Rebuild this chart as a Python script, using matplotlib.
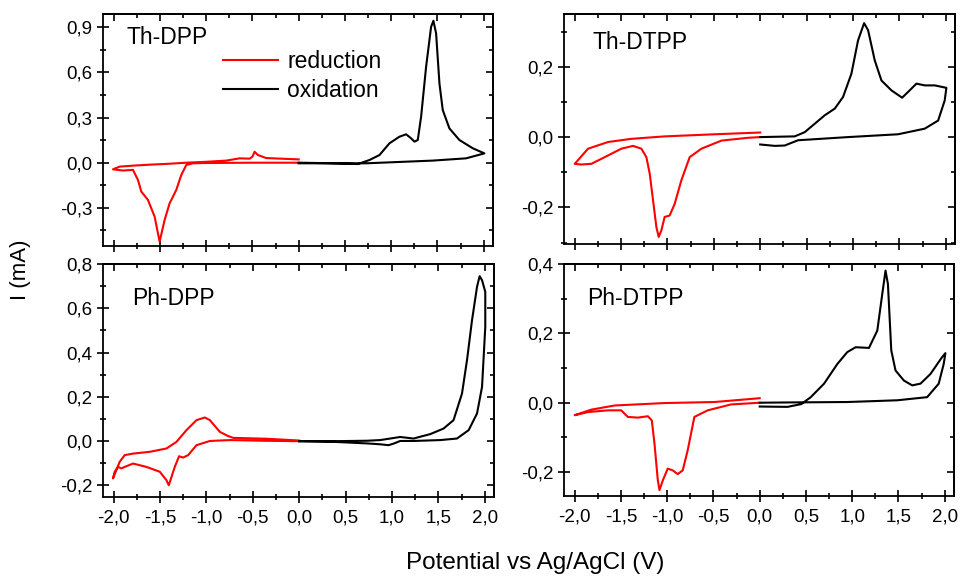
import matplotlib
matplotlib.use("Agg")
import matplotlib.pyplot as plt
from matplotlib.ticker import MultipleLocator, FuncFormatter, NullFormatter

plt.rcParams['font.family'] = ['Liberation Sans', 'DejaVu Sans']

# ---------------- data (potential in V, current in mA) ----------------
# Th-DPP
thdpp_red_x = [0.0, -0.5, -1.0, -1.143, -1.215, -1.269, -1.323, -1.359, -1.395, -1.449, -1.503,
               -1.557, -1.629, -1.701, -1.737, -1.791, -1.9, -2.007, -1.935, -1.8, -1.611, -1.4,
               -1.215, -1.0, -0.783, -0.639, -0.531, -0.5, -0.477, -0.441, -0.351, -0.2, 0.0]
thdpp_red_y = [0.0, 0.0, -0.002, -0.004, -0.015, -0.082, -0.181, -0.226, -0.270, -0.381, -0.525,
               -0.359, -0.248, -0.192, -0.115, -0.048, -0.052, -0.044, -0.026, -0.02, -0.013, -0.007,
               0.0, 0.006, 0.014, 0.029, 0.027, 0.04, 0.073, 0.051, 0.031, 0.027, 0.022]
thdpp_blk_x = [0.0, 0.3, 0.639, 0.765, 0.873, 0.981, 1.089, 1.161, 1.215, 1.251, 1.287, 1.323,
               1.377, 1.431, 1.456, 1.485, 1.521, 1.557, 1.629, 1.737, 1.881, 2.007, 1.809, 1.449,
               1.089, 0.729, 0.369, 0.0]
thdpp_blk_y = [0.0, -0.003, -0.009, 0.018, 0.051, 0.129, 0.173, 0.189, 0.162, 0.140, 0.151, 0.306,
               0.638, 0.904, 0.944, 0.860, 0.528, 0.350, 0.228, 0.151, 0.096, 0.062, 0.029, 0.014,
               0.005, -0.004, -0.004, -0.004]

# Th-DTPP
thdtpp_red_x = [0.0, -0.131, -0.418, -0.634, -0.760, -0.850, -0.922, -0.976, -1.03, -1.065, -1.094,
                -1.119, -1.155, -1.191, -1.227, -1.281, -1.371, -1.497, -1.676, -1.82, -1.928, -2.0,
                -1.982, -1.856, -1.64, -1.39, -1.03, -0.49, 0.0]
thdtpp_red_y = [0.0, -0.002, -0.010, -0.033, -0.057, -0.123, -0.190, -0.223, -0.227, -0.265, -0.284,
                -0.256, -0.180, -0.104, -0.057, -0.033, -0.025, -0.033, -0.057, -0.076, -0.078, -0.076,
                -0.071, -0.033, -0.014, -0.005, 0.002, 0.008, 0.013]
thdtpp_blk_x = [0.0, 0.372, 0.48, 0.588, 0.696, 0.804, 0.893, 0.983, 1.055, 1.12, 1.163, 1.235,
                1.307, 1.414, 1.53, 1.612, 1.684, 1.774, 1.882, 2.007, 1.989, 1.918, 1.774, 1.486,
                0.947, 0.408, 0.264, 0.157, 0.0]
thdtpp_blk_y = [0.0, 0.002, 0.014, 0.038, 0.062, 0.081, 0.114, 0.180, 0.275, 0.324, 0.304, 0.218,
                0.161, 0.133, 0.112, 0.133, 0.152, 0.147, 0.147, 0.140, 0.104, 0.047, 0.024, 0.008,
                0.0, -0.009, -0.024, -0.025, -0.021]

# Ph-DPP
phdpp_red_x = [0.0, -0.4, -0.747, -0.963, -1.107, -1.197, -1.252, -1.295, -1.341, -1.388, -1.406,
               -1.431, -1.503, -1.647, -1.791, -1.881, -1.917, -1.953, -1.989, -2.007, -1.978,
               -1.935, -1.881, -1.791, -1.611, -1.431, -1.323, -1.215, -1.107, -1.017, -0.963,
               -0.855, -0.766, -0.711, -0.351, 0.0]
phdpp_red_y = [0.0, 0.002, 0.005, 0.001, -0.018, -0.063, -0.074, -0.068, -0.116, -0.176, -0.199,
               -0.176, -0.138, -0.116, -0.101, -0.116, -0.123, -0.116, -0.138, -0.168, -0.138,
               -0.093, -0.063, -0.056, -0.048, -0.033, -0.003, 0.050, 0.095, 0.107, 0.095,
               0.042, 0.023, 0.015, 0.011, 0.003]
phdpp_blk_x = [0.0, 0.369, 0.729, 0.873, 1.089, 1.232, 1.413, 1.556, 1.664, 1.755, 1.809, 1.863,
               1.917, 1.945, 1.971, 2.006, 2.006, 1.971, 1.917, 1.827, 1.701, 1.521, 1.232, 1.089,
               1.017, 0.963, 0.873, 0.729, 0.369, 0.0]
phdpp_blk_y = [0.0, 0.0, 0.002, 0.005, 0.019, 0.012, 0.032, 0.057, 0.095, 0.215, 0.366, 0.546,
               0.697, 0.745, 0.727, 0.674, 0.516, 0.245, 0.125, 0.050, 0.012, 0.005, 0.001, 0.001,
               -0.011, -0.018, -0.014, -0.010, -0.003, 0.0]

# Ph-DTPP
phdtpp_red_x = [0.0, -0.311, -0.562, -0.706, -0.778, -0.832, -0.886, -0.94, -0.994, -1.047, -1.083,
                -1.101, -1.137, -1.166, -1.209, -1.317, -1.425, -1.497, -1.64, -1.856, -2.0, -1.82,
                -1.568, -1.03, -0.49, 0.0]
phdtpp_red_y = [0.0, -0.005, -0.022, -0.041, -0.137, -0.195, -0.206, -0.195, -0.190, -0.224, -0.252,
                -0.224, -0.118, -0.051, -0.039, -0.043, -0.041, -0.022, -0.022, -0.027, -0.036, -0.020,
                -0.008, -0.001, 0.002, 0.013]
phdtpp_blk_x = [0.0, 0.3, 0.45, 0.552, 0.696, 0.84, 0.947, 1.037, 1.181, 1.271, 1.325, 1.36, 1.386,
                1.422, 1.468, 1.558, 1.648, 1.738, 1.846, 1.97, 2.007, 1.989, 1.935, 1.81, 1.486,
                0.947, 0.408, 0.0]
phdtpp_blk_y = [-0.011, -0.012, -0.004, 0.016, 0.055, 0.112, 0.146, 0.160, 0.158, 0.208, 0.314, 0.381,
                0.342, 0.151, 0.093, 0.064, 0.050, 0.055, 0.083, 0.131, 0.143, 0.112, 0.055, 0.016,
                0.007, 0.002, 0.001, 0.0]

panel_names = ["Th-DPP", "Th-DTPP", "Ph-DPP", "Ph-DTPP"]
legend_labels = ["reduction", "oxidation"]
x_label = "Potential vs Ag/AgCl (V)"
y_label = "I (mA)"

# ---------------- figure ----------------
fig = plt.figure(figsize=(9.6, 5.77), dpi=100)

W, H = 960.0, 577.0
def rect(l, r, t, b):
    return [l / W, 1 - b / H, (r - l) / W, (b - t) / H]

axes_rects = [rect(103, 493, 14, 246), rect(564, 955, 14, 244),
              rect(103, 494, 264, 497), rect(564, 954, 264, 496)]
ylims = [(-0.554, 0.989), (-0.304, 0.35), (-0.252, 0.8), (-0.269, 0.4)]
ymajor = [0.3, 0.2, 0.2, 0.2]
yminor = [0.15, 0.1, 0.1, 0.1]
label_pos = [(0.059, 0.897), (0.074, 0.878), (0.074, 0.854), (0.059, 0.853)]

data = [(thdpp_red_x, thdpp_red_y, thdpp_blk_x, thdpp_blk_y),
        (thdtpp_red_x, thdtpp_red_y, thdtpp_blk_x, thdtpp_blk_y),
        (phdpp_red_x, phdpp_red_y, phdpp_blk_x, phdpp_blk_y),
        (phdtpp_red_x, phdtpp_red_y, phdtpp_blk_x, phdtpp_blk_y)]

fmt = FuncFormatter(lambda v, p: ("%.1f" % v).replace(".", ",").replace("-0,0", "0,0"))

for i in range(4):
    ax = fig.add_axes(axes_rects[i])
    rx, ry, bx, by = data[i]
    l1, = ax.plot(rx, ry, color="#ff0000", lw=1.5, solid_joinstyle="round")
    l2, = ax.plot(bx, by, color="black", lw=1.5, solid_joinstyle="round")
    ax.set_xlim(-2.115, 2.1)
    ax.set_ylim(*ylims[i])
    ax.xaxis.set_major_locator(MultipleLocator(0.5))
    ax.xaxis.set_minor_locator(MultipleLocator(0.25))
    ax.yaxis.set_major_locator(MultipleLocator(ymajor[i]))
    ax.yaxis.set_minor_locator(MultipleLocator(yminor[i]))
    ax.xaxis.set_major_formatter(fmt)
    ax.yaxis.set_major_formatter(fmt)
    ax.tick_params(which="major", direction="inout", length=8.5, width=1.2, labelsize=13.5,
                   pad=3.5)
    ax.tick_params(which="minor", direction="inout", length=4.5, width=1.2)
    ax.tick_params(axis="x", pad=4.5)
    if i < 2:
        ax.tick_params(axis="x", labelbottom=False)
    for s in ax.spines.values():
        s.set_linewidth(1.3)
    # top / right inward ticks
    sx = ax.secondary_xaxis("top")
    sx.xaxis.set_major_locator(MultipleLocator(0.5))
    sx.xaxis.set_minor_locator(MultipleLocator(0.25))
    sx.xaxis.set_major_formatter(NullFormatter())
    sx.tick_params(which="major", direction="in", length=5, width=1.2)
    sx.tick_params(which="minor", direction="in", length=3, width=1.2)
    sx.spines["top"].set_linewidth(1.3)
    sy = ax.secondary_yaxis("right")
    sy.yaxis.set_major_locator(MultipleLocator(ymajor[i]))
    sy.yaxis.set_minor_locator(MultipleLocator(yminor[i]))
    sy.yaxis.set_major_formatter(NullFormatter())
    sy.tick_params(which="major", direction="in", length=5, width=1.2)
    sy.tick_params(which="minor", direction="in", length=3, width=1.2)
    sy.spines["right"].set_linewidth(1.3)

    ax.text(label_pos[i][0], label_pos[i][1], panel_names[i], transform=ax.transAxes,
            ha="left", va="center", fontsize=16.5)
    if i == 0:
        ax.legend([l1, l2], legend_labels, loc="upper left", bbox_to_anchor=(0.308, 0.845),
                  frameon=False, fontsize=16.5, handlelength=2.4, handletextpad=0.4,
                  labelspacing=0.28, borderpad=0, borderaxespad=0)

fig.text(0.021, 0.532, y_label, rotation=90, ha="center", va="center", fontsize=16)
fig.text(0.557, 0.024, x_label, ha="center", va="center", fontsize=17.5)

fig.savefig("out.png", dpi=100)
